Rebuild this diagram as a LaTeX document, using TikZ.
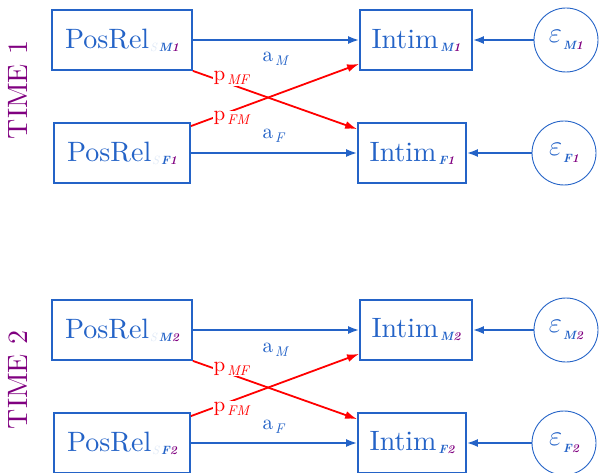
\documentclass[tikz,border=0pt]{standalone}
\usepackage{graphicx}
\usetikzlibrary{arrows.meta,calc}

% Latin Modern at its 10pt design size, used at every size
\DeclareFontFamily{TU}{lmten}{}
\DeclareFontShape{TU}{lmten}{m}{n}{<-> "[lmroman10-regular]:+tlig;"}{}
\DeclareFontShape{TU}{lmten}{m}{it}{<-> "[lmroman10-italic]:+tlig;"}{}
\DeclareFontShape{TU}{lmten}{b}{it}{<-> "[lmroman10-bolditalic]:+tlig;"}{}
\DeclareFontShape{TU}{lmten}{bx}{it}{<-> ssub * lmten/b/it}{}
\DeclareFontShape{TU}{lmten}{b}{n}{<-> "[lmroman10-bold]:+tlig;"}{}
\DeclareFontShape{TU}{lmten}{bx}{n}{<-> ssub * lmten/b/n}{}
\renewcommand{\rmdefault}{lmten}

\definecolor{pathblue}{RGB}{36,99,199}
\definecolor{timepurple}{RGB}{128,0,128}
\definecolor{ghost}{RGB}{222,232,246}

% subscripts: blue letter followed by purple wave number
\newcommand{\wavesub}[2]{\hspace{2pt}\raisebox{-3pt}{\fontsize{12}{12}\selectfont\bfseries\itshape\color{pathblue}#1\color{timepurple}#2}}
\newcommand{\relsub}[2]{\hspace{1pt}\raisebox{-3pt}{\fontsize{12}{12}\selectfont\itshape{\color{ghost}S}\hspace{2pt}\bfseries\color{pathblue}#1\color{timepurple}#2}}
\newcommand{\errsub}[2]{\hspace{1pt}\raisebox{-7pt}{\fontsize{12}{12}\selectfont\bfseries\itshape\color{pathblue}#1\color{timepurple}#2}}
\newcommand{\pathsub}[1]{\hspace{2pt}\raisebox{-4pt}{\fontsize{14}{14}\selectfont\itshape #1}}
\newcommand{\epsglyph}{\scalebox{1.15}{$\varepsilon$}}

\tikzset{
  varbox/.style={draw=pathblue, line width=1.8pt, text=pathblue, minimum height=60pt,
    inner sep=0pt, font=\fontsize{28}{30}\selectfont},
  errnode/.style={circle, draw=pathblue, line width=0.9pt, minimum size=64pt,
    inner sep=0pt, text=pathblue, font=\fontsize{24.88}{30}\selectfont},
  bluepath/.style={draw=pathblue, line width=1.8pt, -{Latex[length=11pt,width=8pt]}},
  crosspath/.style={draw=red, line width=1.8pt, -{Latex[length=12pt,width=8pt]}},
  pathlab/.style={font=\fontsize{21}{22}\selectfont, inner sep=0.5pt, anchor=base west},
  timelab/.style={rotate=90, text=timepurple, font=\fontsize{28}{30}\selectfont}
}

\begin{document}
\begin{tikzpicture}[x=1pt,y=-1pt]
\useasboundingbox (0,0) rectangle (599,473);

\foreach \t/\dy in {1/0,2/290}{
  % variables of one wave
  \node[varbox, minimum width=140pt] (PM\t) at (122,40+\dy) {PosRel\relsub{M}{\t}};
  \node[varbox, minimum width=136pt] (PF\t) at (122,153+\dy) {PosRel\relsub{F}{\t}};
  \node[varbox, minimum width=112pt] (IM\t) at (416,40+\dy) {Intim\wavesub{M}{\t}};
  \node[varbox, minimum width=108pt] (IF\t) at (412,153+\dy) {Intim\wavesub{F}{\t}};
  \node[errnode] (EM\t) at (566,40+\dy) {\epsglyph\errsub{M}{\t}};
  \node[errnode] (EF\t) at (564,153+\dy) {\epsglyph\errsub{F}{\t}};
  \node[timelab] (T\t) at (18,90+\dy) {TIME \t};

  % actor effects
  \draw[bluepath] (PM\t) -- (IM\t);
  \draw[bluepath] (PF\t) -- (IF\t);
  % partner effects
  \draw[crosspath] (PM\t.south east) -- ([yshift=-7pt]IF\t.north west);
  \draw[crosspath] ([yshift=-4pt]PF\t.north east) -- ([yshift=7pt]IM\t.south west);
  % residuals
  \draw[bluepath] (EM\t) -- (IM\t);
  \draw[bluepath] (EF\t) -- (IF\t);

  % path labels
  \node[pathlab, text=pathblue] (aM\t) at (262,62+\dy) {a\pathsub{M}};
  \node[pathlab, text=pathblue] (aF\t) at (262,139+\dy) {a\pathsub{F}};
  \node[pathlab, text=red, fill=white] (pMF\t) at (213,81+\dy) {p\pathsub{MF}};
  \node[pathlab, text=red, fill=white] (pFM\t) at (213,121+\dy) {p\pathsub{FM}};
}
\end{tikzpicture}
\end{document}
